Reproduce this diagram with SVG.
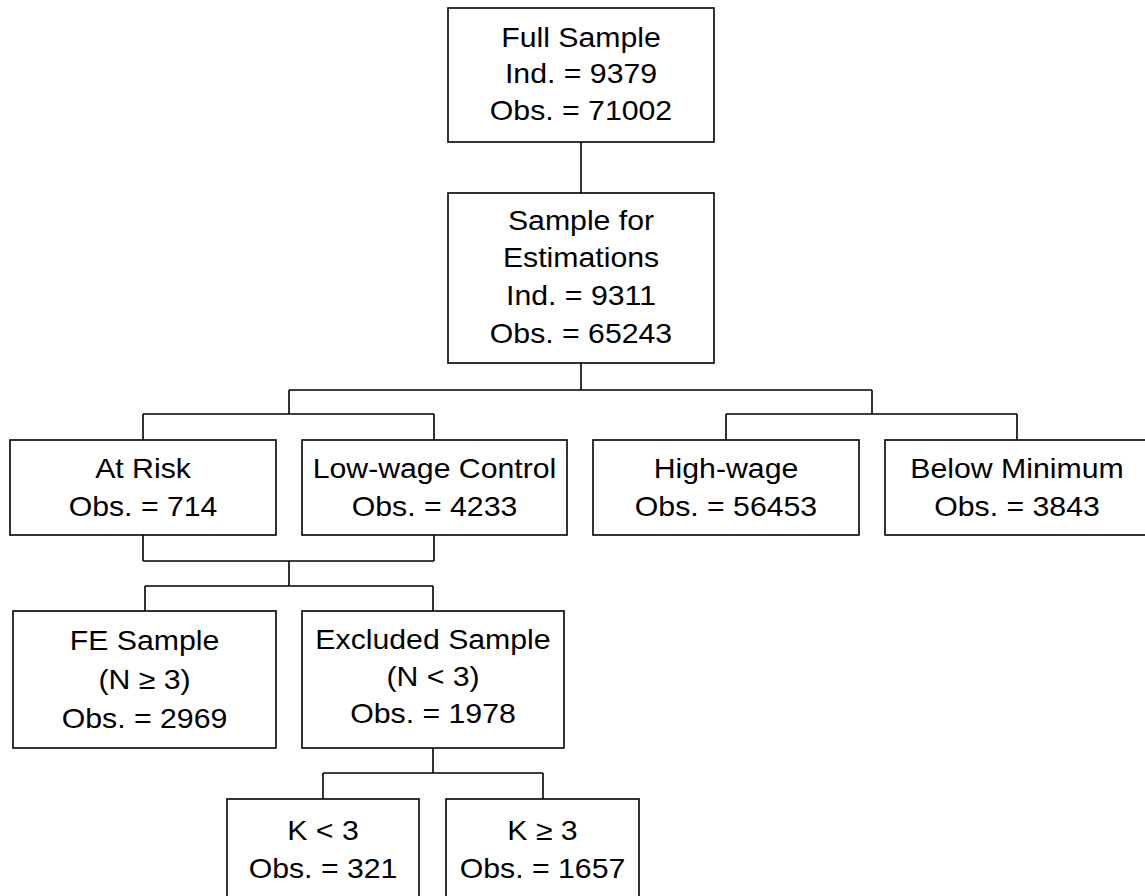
<svg xmlns="http://www.w3.org/2000/svg" width="1145" height="896" viewBox="0 0 1145 896">
<style>
rect{fill:#fff;stroke:#000;stroke-width:1.6}
#connectors path{fill:none;stroke:#000;stroke-width:1.6}
text{font-family:"Liberation Sans",Arial,sans-serif;font-size:27.5px;text-anchor:middle;fill:#000}
</style>
<rect x="0" y="0" width="1145" height="896" style="stroke:none"/>
<g id="connectors">
<path d="M581 142V193M581 363V390M289 390H872M289 390V414M872 390V414"/>
<path d="M143 414H434M143 414V440M434 414V440M726 414H1017M726 414V440M1017 414V440"/>
<path d="M143 535V561M434 535V561M143 561H434M289 561V586M145 586H433M145 586V611M433 586V611"/>
<path d="M433 748V773M323 773H543M323 773V799M543 773V799"/>
</g>
<g id="full">
<rect x="448" y="8" width="266" height="134"/>
<g transform="translate(581 0) scale(1.1 1)"><text x="0" y="47">Full Sample</text><text x="0" y="83">Ind. = 9379</text><text x="0" y="120">Obs. = 71002</text></g>
</g>
<g id="estimation">
<rect x="448" y="193" width="266" height="170"/>
<g transform="translate(581 0) scale(1.1 1)"><text x="0" y="230">Sample for</text><text x="0" y="267">Estimations</text><text x="0" y="305">Ind. = 9311</text><text x="0" y="343">Obs. = 65243</text></g>
</g>
<g id="atrisk">
<rect x="10" y="440" width="266" height="95"/>
<g transform="translate(143 0) scale(1.1 1)"><text x="0" y="478">At Risk</text><text x="0" y="516">Obs. = 714</text></g>
</g>
<g id="lowwage">
<rect x="302" y="440" width="265" height="95"/>
<g transform="translate(434.5 0) scale(1.1 1)"><text x="0" y="478">Low-wage Control</text><text x="0" y="516">Obs. = 4233</text></g>
</g>
<g id="highwage">
<rect x="593" y="440" width="266" height="95"/>
<g transform="translate(726 0) scale(1.1 1)"><text x="0" y="478">High-wage</text><text x="0" y="516">Obs. = 56453</text></g>
</g>
<g id="belowmin">
<rect x="885" y="440" width="266" height="95"/>
<g transform="translate(1017 0) scale(1.1 1)"><text x="0" y="478">Below Minimum</text><text x="0" y="516">Obs. = 3843</text></g>
</g>
<g id="fe">
<rect x="13" y="611" width="263" height="137"/>
<g transform="translate(144.5 0) scale(1.1 1)"><text x="0" y="650">FE Sample</text><text x="0" y="689">(N ≥ 3)</text><text x="0" y="728">Obs. = 2969</text></g>
</g>
<g id="excluded">
<rect x="302" y="611" width="262" height="137"/>
<g transform="translate(433 0) scale(1.1 1)"><text x="0" y="649">Excluded Sample</text><text x="0" y="686">(N &lt; 3)</text><text x="0" y="723">Obs. = 1978</text></g>
</g>
<g id="klt3">
<rect x="227" y="799" width="192" height="120"/>
<g transform="translate(323 0) scale(1.1 1)"><text x="0" y="840">K &lt; 3</text><text x="0" y="878">Obs. = 321</text></g>
</g>
<g id="kge3">
<rect x="446" y="799" width="193" height="120"/>
<g transform="translate(542.5 0) scale(1.1 1)"><text x="0" y="840">K ≥ 3</text><text x="0" y="878">Obs. = 1657</text></g>
</g>
</svg>
